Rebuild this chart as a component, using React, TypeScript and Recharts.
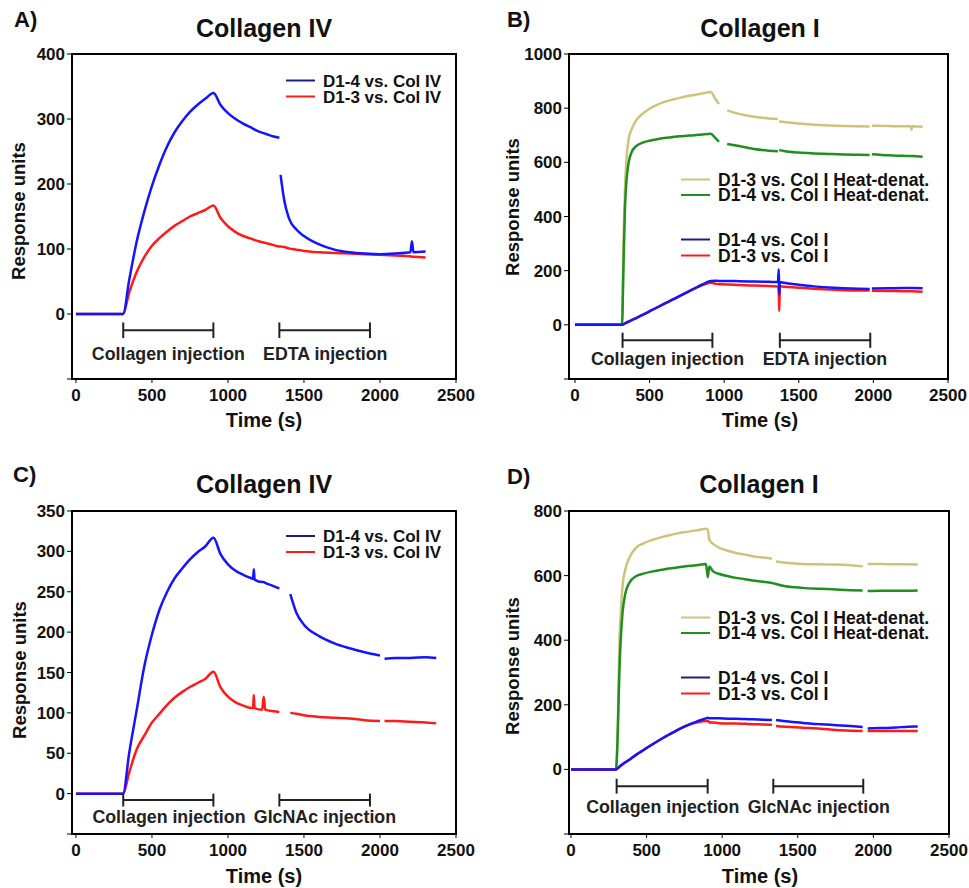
import { LineChart, Line, XAxis, YAxis, ReferenceArea, ReferenceLine, ReferenceDot } from "recharts";

const FONT = '"Liberation Sans", Arial, sans-serif';
const timeTicks = [0, 500, 1000, 1500, 2000, 2500];

// A) Collagen IV, EDTA
const timeA = [0, 100, 200, 300, 310, 350, 400, 450, 500, 550, 600, 650, 700, 750, 800, 850, 905, 950, 1000, 1050, 1100, 1150, 1200, 1250, 1300, 1338, 1342, 1346, 1370, 1400, 1450, 1500, 1600, 1700, 1800, 1900, 2000, 2100, 2200, 2210, 2220, 2300];
const aD14 = [0, 0, 0, 0, 0, 52, 112, 158, 197, 230, 258, 280, 297, 311, 322, 331, 340, 322, 309, 300, 293, 287, 281, 277, 273, 271, null, 214, 175, 148, 130, 120, 107, 99, 95, 93, 92, 93, 95, 112, 95, 96];
const aD13 = [0, 0, 0, 0, 0, 33, 65, 88, 105, 117, 127, 136, 143, 150, 155, 160, 167, 148, 135, 126, 120, 116, 112, 109, 106, 104, 104, 104, 103, 101, 99, 97, 95, 94, 93, 92, 91, 90, 89, 88, 88, 87];

// B) Collagen I, EDTA
const timeB = [0, 100, 200, 300, 315, 325, 335, 345, 360, 380, 410, 450, 500, 550, 600, 650, 700, 750, 800, 850, 910, 940, 965, 970, 1010, 1020, 1100, 1200, 1300, 1360, 1366, 1369, 1373, 1400, 1500, 1600, 1700, 1800, 1900, 1975, 1980, 1990, 2100, 2200, 2250, 2255, 2260, 2330];
const bD13Heat = [0, 0, 0, 0, 0, 300, 500, 610, 688, 722, 755, 778, 798, 812, 823, 831, 838, 844, 849, 854, 860, 835, 815, null, null, 792, 779, 768, 762, 760, null, 752, 751, 749, 743, 739, 736, 734, 733, 732, null, 735, 734, 733, 733, 720, 733, 731];
const bD14Heat = [0, 0, 0, 0, 0, 210, 430, 530, 600, 638, 660, 672, 680, 685, 690, 693, 696, 698, 700, 703, 706, 690, 676, null, null, 668, 660, 649, 643, 641, null, 645, 645, 642, 636, 633, 631, 629, 628, 627, null, 630, 626, 624, 623, 623, 623, 621];
const bD14 = [0, 0, 0, 0, 0, 2, 5, 8, 12, 17, 25, 36, 50, 64, 78, 92, 106, 120, 134, 148, 162, 163, 162, 162, 162, 162, 161, 160, 159, 158, 205, 112, 158, 155, 148, 142, 138, 135, 133, 132, null, 134, 135, 136, 136, 136, 136, 135];
const bD13 = [0, 0, 0, 0, 0, 2, 5, 8, 12, 17, 25, 36, 50, 64, 78, 92, 106, 120, 134, 146, 155, 152, 150, 150, 149, 149, 147, 145, 143, 142, 120, 51, 142, 141, 137, 133, 130, 128, 127, 127, null, 126, 125, 124, 124, 124, 124, 122];

// C) Collagen IV, GlcNAc
const timeC = [0, 100, 200, 300, 310, 350, 400, 450, 500, 550, 600, 650, 700, 750, 800, 850, 905, 950, 1000, 1050, 1100, 1150, 1165, 1170, 1175, 1225, 1235, 1245, 1300, 1338, 1400, 1410, 1450, 1500, 1600, 1700, 1800, 1900, 2000, 2010, 2030, 2100, 2200, 2300, 2370];
const cD14 = [0, 0, 0, 0, 0, 50, 104, 158, 197, 228, 250, 267, 279, 290, 299, 306, 317, 297, 284, 276, 271, 267, 266, 278, 265, 262, 262, 261, 257, 254, null, 247, 224, 209, 195, 186, 180, 175, 171, null, 167, 168, 168, 169, 168];
const cD13 = [0, 0, 0, 0, 0, 26, 55, 72, 88, 99, 110, 119, 126, 132, 137, 142, 151, 132, 120, 113, 109, 106, 106, 122, 106, 104, 120, 104, 102, 101, null, 100, 99, 97, 95, 94, 93, 91, 90, null, 90, 90, 89, 88, 87];

// D) Collagen I, GlcNAc
const timeD = [0, 100, 200, 298, 310, 320, 330, 342, 360, 386, 430, 480, 540, 600, 650, 700, 761, 830, 893, 905, 915, 940, 981, 1040, 1091, 1150, 1201, 1270, 1329, 1340, 1356, 1420, 1532, 1650, 1753, 1850, 1929, 1945, 1962, 2050, 2150, 2230, 2293];
const dD13Heat = [0, 0, 0, 0, 150, 387, 490, 572, 620, 655, 686, 700, 711, 719, 725, 730, 735, 740, 745, 742, 711, 698, 686, 677, 670, 665, 660, 656, 653, null, 644, 640, 636, 635, 634, 632, 629, null, 636, 636, 635, 635, 634];
const dD14Heat = [0, 0, 0, 0, 120, 300, 410, 490, 545, 578, 598, 606, 613, 618, 622, 625, 629, 632, 636, 595, 628, 613, 605, 598, 593, 589, 585, 581, 577, 576, 574, 567, 562, 559, 557, 555, 554, null, 552, 553, 553, 553, 554];
const dD14 = [0, 0, 0, 0, 4, 8, 12, 16, 22, 30, 45, 60, 78, 95, 108, 121, 135, 148, 158, 160, 158, 158, 158, 157, 157, 156, 155, 154, 153, null, 153, 149, 144, 140, 137, 134, 131, null, 127, 128, 130, 132, 133];
const dD13 = [0, 0, 0, 0, 4, 8, 12, 16, 22, 30, 45, 60, 78, 95, 108, 121, 135, 145, 150, 150, 146, 145, 143, 142, 142, 141, 140, 139, 138, null, 134, 132, 129, 126, 122, 120, 119, null, 119, 119, 119, 119, 119];

const BLUE = "#1414ff";
const RED = "#ff1a1a";
const KHAKI = "#cdc47c";
const GREEN = "#1f8f1f";
const NAVY = "#1c1c84";

type Series = { key: string; name: string; color: string; legend: string; values: (number | null)[] };
type Bracket = { from: number; to: number; y: number; h: number; text: string; tx: number; ty: number };
type PanelDef = {
  left: number; top: number; width: number; height: number;
  margin: { top: number; right: number; bottom: number; left: number };
  xMin: number; yDomain: [number, number]; yTicks: number[];
  times: number[]; series: Series[]; brackets: Bracket[];
};

// y axis is 60 wide, x axis 30 high; margins hold the rest
const panels: PanelDef[] = [
  {
    left: 0, top: 0, width: 480, height: 440,
    margin: { top: 54, right: 24, bottom: 31, left: 12 },
    xMin: -26, yDomain: [-100, 400], yTicks: [-100, 0, 100, 200, 300, 400],
    times: timeA,
    series: [
      { key: "d13", name: "D1-3 vs. Col IV", color: RED, legend: RED, values: aD13 },
      { key: "d14", name: "D1-4 vs. Col IV", color: BLUE, legend: NAVY, values: aD14 },
    ],
    brackets: [
      { from: 311, to: 904, y: -25, h: 12, text: "Collagen injection", tx: 608, ty: -61 },
      { from: 1338, to: 1934, y: -25, h: 12, text: "EDTA injection", tx: 1640, ty: -61 },
    ],
  },
  {
    left: 480, top: 0, width: 489, height: 440,
    margin: { top: 54, right: 21, bottom: 31, left: 29 },
    xMin: -40, yDomain: [-200, 1000], yTicks: [-200, 0, 200, 400, 600, 800, 1000],
    times: timeB,
    series: [
      { key: "h13", name: "D1-3 vs. Col I Heat-denat.", color: KHAKI, legend: KHAKI, values: bD13Heat },
      { key: "h14", name: "D1-4 vs. Col I Heat-denat.", color: GREEN, legend: GREEN, values: bD14Heat },
      { key: "d13", name: "D1-3 vs. Col I", color: RED, legend: RED, values: bD13 },
      { key: "d14", name: "D1-4 vs. Col I", color: BLUE, legend: NAVY, values: bD14 },
    ],
    brackets: [
      { from: 319, to: 921, y: -57, h: 28, text: "Collagen injection", tx: 620, ty: -124 },
      { from: 1373, to: 1979, y: -57, h: 28, text: "EDTA injection", tx: 1675, ty: -124 },
    ],
  },
  {
    left: 0, top: 440, width: 480, height: 448,
    margin: { top: 71, right: 24, bottom: 24, left: 12 },
    xMin: -26, yDomain: [-50, 350], yTicks: [-50, 0, 50, 100, 150, 200, 250, 300, 350],
    times: timeC,
    series: [
      { key: "d13", name: "D1-3 vs. Col IV", color: RED, legend: RED, values: cD13 },
      { key: "d14", name: "D1-4 vs. Col IV", color: BLUE, legend: NAVY, values: cD14 },
    ],
    brackets: [
      { from: 311, to: 904, y: -8, h: 8, text: "Collagen injection", tx: 612, ty: -29 },
      { from: 1338, to: 1934, y: -8, h: 8, text: "GlcNAc injection", tx: 1638, ty: -29 },
    ],
  },
  {
    left: 480, top: 440, width: 489, height: 448,
    margin: { top: 71, right: 20, bottom: 24, left: 29 },
    xMin: -13, yDomain: [-200, 800], yTicks: [-200, 0, 200, 400, 600, 800],
    times: timeD,
    series: [
      { key: "h13", name: "D1-3 vs. Col I Heat-denat.", color: KHAKI, legend: KHAKI, values: dD13Heat },
      { key: "h14", name: "D1-4 vs. Col I Heat-denat.", color: GREEN, legend: GREEN, values: dD14Heat },
      { key: "d13", name: "D1-3 vs. Col I", color: RED, legend: RED, values: dD13 },
      { key: "d14", name: "D1-4 vs. Col I", color: BLUE, legend: NAVY, values: dD14 },
    ],
    brackets: [
      { from: 302, to: 904, y: -52, h: 23, text: "Collagen injection", tx: 607, ty: -116 },
      { from: 1338, to: 1933, y: -52, h: 23, text: "GlcNAc injection", tx: 1639, ty: -116 },
    ],
  },
];

// overlay text, page coordinates
const titles = [
  { tag: "A)", tx: 14, ty: 27, title: "Collagen IV", cx: 264, cy: 37, xl: 264, xly: 427, yl: 25, yly: 211 },
  { tag: "B)", tx: 507, ty: 27, title: "Collagen I", cx: 760, cy: 37, xl: 760, xly: 427, yl: 519, yly: 207 },
  { tag: "C)", tx: 13, ty: 482, title: "Collagen IV", cx: 264, cy: 493, xl: 264, xly: 883, yl: 26, yly: 670 },
  { tag: "D)", tx: 507, ty: 484, title: "Collagen I", cx: 759, cy: 493, xl: 760, xly: 883, yl: 519, yly: 666 },
];

const legends = [
  { x: 286, rows: [80.5, 96.5], order: ["d14", "d13"], panel: 0, size: 17 },
  { x: 681, rows: [179.5, 195, 239.5, 255.5], order: ["h13", "h14", "d14", "d13"], panel: 1, size: 17.6 },
  { x: 286, rows: [536, 552], order: ["d14", "d13"], panel: 2, size: 17 },
  { x: 681, rows: [617.5, 633, 677.5, 693.5], order: ["h13", "h14", "d14", "d13"], panel: 3, size: 17.6 },
];

const tickStyle = { fill: "#111", fontSize: 17, fontWeight: 700, fontFamily: FONT };

function Panel({ p }: { p: PanelDef }) {
  const data = p.times.map((t, i) => {
    const row: Record<string, number | null> = { t };
    p.series.forEach((s) => (row[s.key] = s.values[i]));
    return row;
  });
  return (
    <div style={{ position: "absolute", left: p.left, top: p.top }}>
      <LineChart width={p.width} height={p.height} data={data} margin={p.margin}>
        <XAxis
          dataKey="t"
          type="number"
          domain={[p.xMin, 2500]}
          ticks={timeTicks}
          allowDataOverflow
          height={30}
          tickSize={4}
          tickMargin={6}
          tick={tickStyle}
          axisLine={{ stroke: "#000", strokeWidth: 2 }}
          tickLine={{ stroke: "#000", strokeWidth: 1 }}
        />
        <YAxis
          type="number"
          domain={p.yDomain}
          ticks={p.yTicks}
          allowDataOverflow
          width={60}
          tickSize={5}
          tickMargin={2}
          tick={tickStyle}
          tickFormatter={(v: number) => (v === p.yDomain[0] ? "" : String(v))}
          axisLine={{ stroke: "#000", strokeWidth: 2 }}
          tickLine={{ stroke: "#000", strokeWidth: 1 }}
        />
        <ReferenceArea
          x1={p.xMin}
          x2={2500}
          y1={p.yDomain[0]}
          y2={p.yDomain[1]}
          fill="none"
          fillOpacity={0}
          stroke="#000"
          strokeWidth={2}
        />
        {p.series.map((s) => (
          <Line
            key={s.key}
            type="monotone"
            dataKey={s.key}
            stroke={s.color}
            strokeWidth={2.5}
            dot={false}
            isAnimationActive={false}
          />
        ))}
        {p.brackets.map((b, i) => (
          <ReferenceLine
            key={"h" + i}
            segment={[{ x: b.from, y: b.y }, { x: b.to, y: b.y }]}
            stroke="#222"
            strokeWidth={2}
          />
        ))}
        {p.brackets.flatMap((b, i) =>
          [b.from, b.to].map((x, j) => (
            <ReferenceLine
              key={"v" + i + j}
              segment={[{ x, y: b.y - b.h }, { x, y: b.y + b.h }]}
              stroke="#222"
              strokeWidth={2}
            />
          ))
        )}
        {p.brackets.map((b, i) => (
          <ReferenceDot
            key={"t" + i}
            x={b.tx}
            y={b.ty}
            r={0}
            fill="none"
            stroke="none"
            label={{ value: b.text, position: "center", fill: "#222", fontSize: 17.8, fontWeight: 700, fontFamily: FONT }}
          />
        ))}
      </LineChart>
    </div>
  );
}

export default function App() {
  return (
    <div style={{ position: "absolute", left: 0, top: 0, width: 969, height: 888, background: "#fff", overflow: "hidden" }}>
      {panels.map((p, i) => (
        <Panel key={i} p={p} />
      ))}
      <svg width={969} height={888} style={{ position: "absolute", left: 0, top: 0, pointerEvents: "none" }} fontFamily={FONT} fontWeight={700}>
        {titles.map((t) => (
          <g key={t.tag}>
            <text x={t.tx} y={t.ty} fontSize={22} fill="#111">{t.tag}</text>
            <text x={t.cx} y={t.cy} fontSize={25} textAnchor="middle" fill="#111">{t.title}</text>
            <text x={t.xl} y={t.xly} fontSize={20} textAnchor="middle" fill="#111">Time (s)</text>
            <text x={t.yl} y={t.yly} fontSize={18.5} textAnchor="middle" fill="#111" transform={`rotate(-90 ${t.yl} ${t.yly})`}>
              Response units
            </text>
          </g>
        ))}
        {legends.map((l, li) =>
          l.order.map((k, ri) => {
            const s = panels[l.panel].series.find((x) => x.key === k)!;
            const y = l.rows[ri];
            return (
              <g key={li + k}>
                <line x1={l.x} x2={l.x + 29} y1={y} y2={y} stroke={s.legend} strokeWidth={2} />
                <text x={l.x + 37} y={y} dy="0.36em" fontSize={l.size} fill="#111">{s.name}</text>
              </g>
            );
          })
        )}
      </svg>
    </div>
  );
}
